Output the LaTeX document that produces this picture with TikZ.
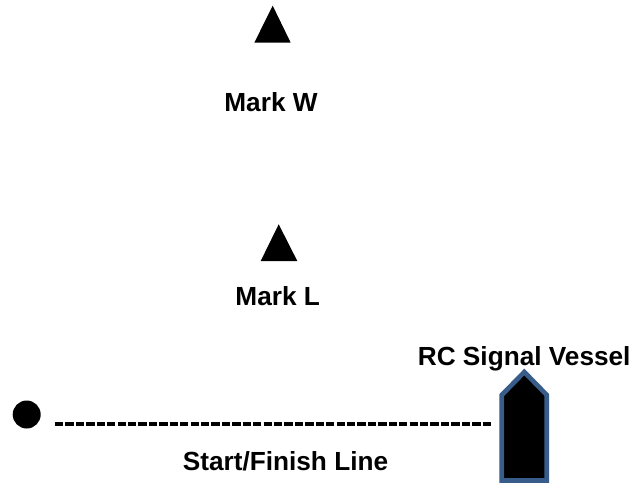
\documentclass[tikz,border=0pt]{standalone}
\usepackage{fontspec}
\setmainfont{Liberation Sans}
\definecolor{vesselblue}{HTML}{385D8A}
\begin{document}
\begin{tikzpicture}[x=1pt,y=-1pt,
  lbl/.style={font=\fontsize{26.2}{30}\selectfont\bfseries, anchor=base, inner sep=0pt},
  markbuoy/.style={fill=black, draw=none},
  startline/.style={line width=4pt, dash pattern=on 8.3pt off 2.13pt}]
\useasboundingbox (0,0) rectangle (634,483);
% Mark W
\fill[markbuoy] (254.3,42.7) -- (272.7,5.7) -- (290.7,42.7) -- cycle;
\node[lbl] (mw) at (271,111) {Mark W};
% Mark L
\fill[markbuoy] (260.7,261) -- (278.7,224.3) -- (297.3,261) -- cycle;
\node[lbl] (ml) at (277.7,305) {Mark L};
% pin end
\node[circle, fill=black, minimum size=28pt, inner sep=0pt] (pin) at (26.7,414.5) {};
\coordinate (ls) at (55,424);
\coordinate (le) at (491,424);
\draw[startline] (ls) -- (le);
\node[lbl] (sf) at (285.5,470) {Start/Finish Line};
% RC vessel
\draw[fill=black, draw=vesselblue, line width=4.7pt, line join=miter]
  (501.8,480.5) -- (501.8,395) -- (524.3,372) -- (546.8,395) -- (546.8,480.5) -- cycle;
\node[lbl] (rc) at (524.2,365) {RC Signal Vessel};
\end{tikzpicture}
\end{document}
